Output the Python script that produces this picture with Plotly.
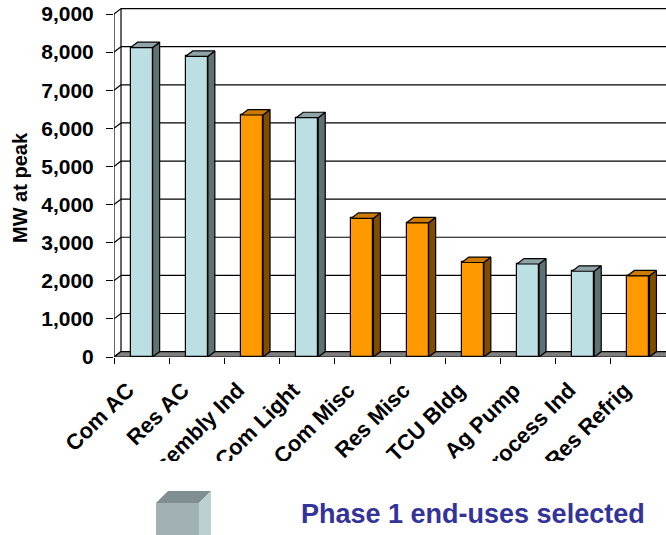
import plotly.graph_objects as go

# ---------------- data ----------------
categories = ["Com AC", "Res AC", "Assembly Ind", "Com Light", "Com Misc",
              "Res Misc", "TCU Bldg", "Ag Pump", "Process Ind", "Res Refrig"]
mw_at_peak = [8120, 7890, 6350, 6280, 3640, 3520, 2480, 2440, 2250, 2130]
phase1_selected = [False, False, True, False, True, True, True, False, False, True]
y_tick_values = [0, 1000, 2000, 3000, 4000, 5000, 6000, 7000, 8000, 9000]

# ---------------- style / geometry ----------------
W, H = 666, 535
ML, MR, MT, MB = 114, 0, 5, 178
PW, PH = W - ML - MR, H - MT - MB
PX_PER_K = 38.11                       # pixels per 1000 MW
Y_MAX = PH / PX_PER_K * 1000
N = len(categories)
X0, X1 = -0.5, N - 0.5
PX_PER_CAT = PW / N
DX = 7.0 / PX_PER_CAT                  # depth offset (x, in category units)
DY = 5.4 / PX_PER_K * 1000             # depth offset (y, in MW units)
BAR_W = 0.4

FONT = "Liberation Sans, Arial, sans-serif"
BLUE_FRONT, BLUE_SIDE, BLUE_TOP = "#BBDFE2", "#5E7173", "#8FA4A6"
ORNG_FRONT, ORNG_SIDE, ORNG_TOP = "#FF9900", "#7F4C00", "#CC7A00"
LINE_W = 1.2

pos = list(range(N))

def px_to_paper(px, py):
    return (px - ML) / PW, (H - MB - py) / PH

fig = go.Figure()

# ---- front faces of the 3-D columns ----
fig.add_trace(go.Bar(
    x=pos, y=mw_at_peak, width=BAR_W,
    marker=dict(color=[ORNG_FRONT if s else BLUE_FRONT for s in phase1_selected],
                line=dict(color="black", width=LINE_W)),
    hoverinfo="skip", showlegend=False,
))

# ---- side and top faces ----
def faces(selected_flag, kind):
    xs, ys = [], []
    for p, v, s in zip(pos, mw_at_peak, phase1_selected):
        if s != selected_flag:
            continue
        l, r = p - BAR_W / 2, p + BAR_W / 2
        if kind == "side":
            xs += [r, r + DX, r + DX, r, r, None]
            ys += [0, DY, v + DY, v, 0, None]
        else:
            xs += [l, r, r + DX, l + DX, l, None]
            ys += [v, v, v + DY, v + DY, v, None]
    return xs, ys

for flag, side_c, top_c in [(False, BLUE_SIDE, BLUE_TOP), (True, ORNG_SIDE, ORNG_TOP)]:
    for kind, col in [("side", side_c), ("top", top_c)]:
        xs, ys = faces(flag, kind)
        fig.add_trace(go.Scatter(
            x=xs, y=ys, mode="lines", fill="toself", fillcolor=col,
            line=dict(color="black", width=LINE_W),
            hoverinfo="skip", showlegend=False,
        ))

# ---- walls, floor and grid (drawn beneath the columns) ----
shapes = []
top_v = y_tick_values[-1]
for v in y_tick_values[1:]:
    shapes.append(dict(type="line", xref="x", yref="y", layer="below",
                       x0=X0 + DX, x1=X1 + DX, y0=v + DY, y1=v + DY,
                       line=dict(color="black", width=LINE_W)))
for v in y_tick_values:
    shapes.append(dict(type="line", xref="x", yref="y", layer="below",
                       x0=X0, x1=X0 + DX, y0=v, y1=v + DY,
                       line=dict(color="black", width=LINE_W)))
shapes.append(dict(type="line", xref="x", yref="y", layer="below",
                   x0=X0 + DX, x1=X0 + DX, y0=DY, y1=top_v + DY,
                   line=dict(color="black", width=LINE_W)))
shapes.append(dict(type="line", xref="x", yref="y", layer="below",
                   x0=X0, x1=X0, y0=0, y1=top_v,
                   line=dict(color="black", width=LINE_W)))
shapes.append(dict(type="path", xref="x", yref="y", layer="below",
                   path=f"M {X0},0 L {X1 + DX},0 L {X1 + 2 * DX},{DY} L {X0 + DX},{DY} Z",
                   fillcolor="#808080", line=dict(color="black", width=LINE_W)))

# ---- white band that trims the rotated labels, as in the original slide ----
cx0, cy0 = px_to_paper(-10, 461)
cx1, cy1 = px_to_paper(W + 10, H + 20)
shapes.append(dict(type="rect", xref="paper", yref="paper", layer="above",
                   x0=cx0, x1=cx1, y0=cy1, y1=cy0,
                   fillcolor="white", line=dict(width=0)))

# ---- grey cube key ----
def ppath(pts):
    s = ""
    for i, (a, b) in enumerate(pts):
        xa, yb = px_to_paper(a, b)
        s += ("M " if i == 0 else " L ") + f"{xa},{yb}"
    return s + " Z"

cube = [
    ([(156, 503), (199, 503), (199, 545), (156, 545)], "#A2B1B3"),
    ([(156, 503), (199, 503), (211, 491), (168, 491)], "#7F8E90"),
    ([(199, 503), (211, 491), (211, 545), (199, 545)], "#BCCFD1"),
]
for pts, col in cube:
    shapes.append(dict(type="path", xref="paper", yref="paper", layer="above",
                       path=ppath(pts), fillcolor=col, line=dict(width=0)))

# ---- annotations ----
ax, ay = px_to_paper(20, 188)
tx, ty = px_to_paper(473, 514)
annotations = [
    dict(text="MW at peak", xref="paper", yref="paper", x=ax, y=ay,
         textangle=-90, showarrow=False, xanchor="center", yanchor="middle",
         font=dict(family=FONT, size=20, color="black", weight="bold")),
    dict(text="Phase 1 end-uses selected", xref="paper", yref="paper", x=tx, y=ty,
         showarrow=False, xanchor="center", yanchor="middle",
         font=dict(family=FONT, size=27, color="#333399", weight="bold")),
]

fig.update_layout(
    width=W, height=H,
    margin=dict(l=ML, r=MR, t=MT, b=MB, autoexpand=False),
    paper_bgcolor="white", plot_bgcolor="white",
    showlegend=False, bargap=0,
    shapes=shapes, annotations=annotations,
    xaxis=dict(
        range=[X0, X1], tickmode="array", tickvals=pos, ticktext=categories,
        tickangle=-45, ticks="", showgrid=False, zeroline=False, showline=False,
        automargin=False, ticklabelstandoff=15, ticklabelshift=-14,
        tickfont=dict(family=FONT, size=22, color="black", weight="bold"),
        minor=dict(tickmode="array", tickvals=[X0 + i for i in range(N + 1)],
                   ticks="outside", ticklen=6, tickwidth=LINE_W, tickcolor="black",
                   showgrid=False),
    ),
    yaxis=dict(
        range=[0, Y_MAX], tickmode="array", tickvals=y_tick_values, tickformat=",",
        ticks="outside", ticklen=7, tickwidth=LINE_W, tickcolor="black",
        showgrid=False, zeroline=False, showline=False, automargin=False,
        ticklabelstandoff=8,
        tickfont=dict(family=FONT, size=21, color="black", weight="bold"),
    ),
)

fig.write_html("out.html")
